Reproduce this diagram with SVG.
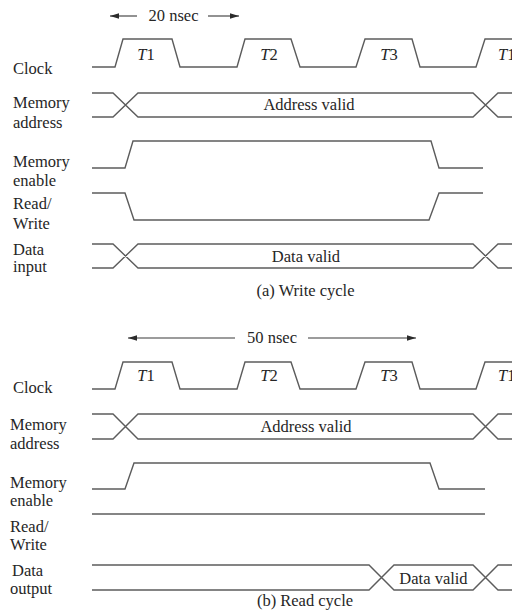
<svg xmlns="http://www.w3.org/2000/svg" width="512" height="616" viewBox="0 0 512 616">
<defs>
<style>
.t{font-family:"Liberation Serif","Times New Roman",serif;font-size:16.5px;fill:#262626}
.m{text-anchor:middle}
.w{fill:none;stroke:#5c5c5c;stroke-width:1.4;stroke-linejoin:miter}
.a{fill:none;stroke:#3a3a3a;stroke-width:1.1}
.i{font-style:italic}
</style>
<marker id="ah" viewBox="0 0 10 6" refX="10" refY="3" markerWidth="9" markerHeight="5.4" markerUnits="userSpaceOnUse" orient="auto-start-reverse">
<path d="M0,0 L10,3 L0,6 z" fill="#2b2b2b"/>
</marker>
</defs>
<rect width="512" height="616" fill="#ffffff"/>

<g id="write-cycle">
<g id="w-clock">
<text class="t" x="13" y="74">Clock</text>
<path class="w" d="M92,67 H115 L123,39 H172 L180,67 H237 L245,39 H291 L300,67 H356 L365,39 H412 L420,67 H476 L485,39 H512"/>
<text class="t m" x="146" y="59.5"><tspan class="i">T</tspan>1</text>
<text class="t m" x="269" y="59.5"><tspan class="i">T</tspan>2</text>
<text class="t m" x="389" y="59.5"><tspan class="i">T</tspan>3</text>
<text class="t" x="498" y="59.5"><tspan class="i">T</tspan>1</text>
</g>
<g id="w-address">
<text class="t" x="13" y="108">Memory</text>
<text class="t" x="13" y="127.5">address</text>
<path class="w" d="M92,93 H113 L138,117 H473 L498,93 H512 M92,117 H113 L138,93 H473 L498,117 H512"/>
<text class="t m" x="309" y="110">Address valid</text>
</g>
<g id="w-enable">
<text class="t" x="13" y="167">Memory</text>
<text class="t" x="13" y="186">enable</text>
<path class="w" d="M92,168 H125 L133,141 H431 L439,168 H483"/>
</g>
<g id="w-rw">
<text class="t" x="13" y="209">Read/</text>
<text class="t" x="13" y="229">Write</text>
<path class="w" d="M92,193 H125 L134,220 H429 L439,193 H483"/>
</g>
<g id="w-data">
<text class="t" x="13" y="254.5">Data</text>
<text class="t" x="13" y="272">input</text>
<path class="w" d="M92,244 H113 L138,268 H473 L498,244 H512 M92,268 H113 L138,244 H473 L498,268 H512"/>
<text class="t m" x="306" y="261.5">Data valid</text>
</g>
<text class="t m" x="305.5" y="295.5">(a) Write cycle</text>
</g>

<g id="read-cycle">
<g id="r-clock">
<text class="t" x="13" y="393">Clock</text>
<path class="w" d="M92,389 H115 L123,362 H172 L180,389 H237 L245,362 H291 L300,389 H356 L365,362 H412 L420,389 H476 L485,362 H512"/>
<text class="t m" x="146" y="381"><tspan class="i">T</tspan>1</text>
<text class="t m" x="269" y="381"><tspan class="i">T</tspan>2</text>
<text class="t m" x="389" y="381"><tspan class="i">T</tspan>3</text>
<text class="t" x="498" y="381"><tspan class="i">T</tspan>1</text>
</g>
<g id="r-address">
<text class="t" x="10" y="430">Memory</text>
<text class="t" x="10" y="449">address</text>
<path class="w" d="M92,414 H113 L138,439 H473 L498,414 H512 M92,439 H113 L138,414 H473 L498,439 H512"/>
<text class="t m" x="306" y="431.5">Address valid</text>
</g>
<g id="r-enable">
<text class="t" x="10" y="488">Memory</text>
<text class="t" x="10" y="506">enable</text>
<path class="w" d="M92,489 H125 L134,463 H430 L439,489 H485"/>
</g>
<g id="r-rw">
<text class="t" x="10" y="531.5">Read/</text>
<text class="t" x="10" y="550">Write</text>
<path class="w" d="M92,514 H485"/>
</g>
<g id="r-data">
<text class="t" x="12" y="575.5">Data</text>
<text class="t" x="10" y="594">output</text>
<path class="w" d="M92,565 H369 L394,590 H473 L498,565 H512 M92,590 H369 L394,565 H473 L498,590 H512"/>
<text class="t m" x="433.5" y="584">Data valid</text>
</g>
<text class="t m" x="305" y="606">(b) Read cycle</text>
</g>

<g id="connectors">
<text class="t m" x="173.5" y="21">20 nsec</text>
<line class="a" x1="137" y1="16" x2="110" y2="16" marker-end="url(#ah)"/>
<line class="a" x1="208" y1="16" x2="239" y2="16" marker-end="url(#ah)"/>
<text class="t m" x="272" y="343">50 nsec</text>
<line class="a" x1="235" y1="338" x2="128" y2="338" marker-end="url(#ah)"/>
<line class="a" x1="308" y1="338" x2="416" y2="338" marker-end="url(#ah)"/>
</g>
</svg>
